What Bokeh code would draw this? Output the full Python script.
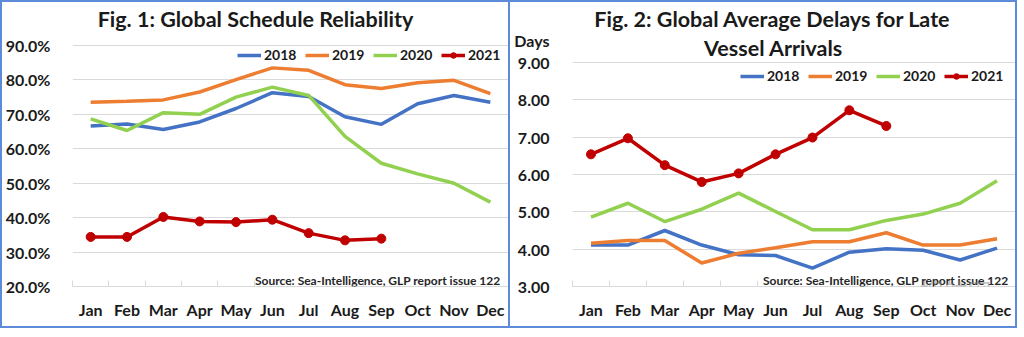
from bokeh.plotting import figure
from bokeh.layouts import row
from bokeh.models import (Label, Legend, LegendItem, FixedTicker, Range1d,
                          NumeralTickFormatter)
from bokeh.embed import file_html
from bokeh.resources import INLINE

# ---------------- data ----------------
months = ["Jan", "Feb", "Mar", "Apr", "May", "Jun", "Jul", "Aug", "Sep", "Oct", "Nov", "Dec"]
years = ["2018", "2019", "2020", "2021"]

# Fig. 1: Global Schedule Reliability (fraction)
rel_2018 = [0.666, 0.672, 0.656, 0.678, 0.717, 0.763, 0.752, 0.693, 0.671, 0.731, 0.755, 0.735]
rel_2019 = [0.735, 0.738, 0.742, 0.765, 0.801, 0.835, 0.828, 0.786, 0.775, 0.792, 0.799, 0.760]
rel_2020 = [0.687, 0.653, 0.705, 0.700, 0.750, 0.779, 0.755, 0.636, 0.558, 0.527, 0.500, 0.445]
rel_2021 = [0.344, 0.344, 0.402, 0.389, 0.387, 0.394, 0.355, 0.334, 0.339]

# Fig. 2: Global Average Delays for Late Vessel Arrivals (days)
del_2018 = [4.11, 4.11, 4.50, 4.11, 3.85, 3.83, 3.49, 3.92, 4.01, 3.97, 3.71, 4.03]
del_2019 = [4.16, 4.23, 4.23, 3.63, 3.89, 4.04, 4.20, 4.20, 4.44, 4.11, 4.11, 4.28]
del_2020 = [4.86, 5.23, 4.74, 5.07, 5.50, 5.01, 4.52, 4.52, 4.77, 4.94, 5.23, 5.83]
del_2021 = [6.54, 6.97, 6.25, 5.80, 6.03, 6.54, 6.99, 7.72, 7.30]

pct_ticks = [0.2, 0.3, 0.4, 0.5, 0.6, 0.7, 0.8, 0.9]
day_ticks = [3, 4, 5, 6, 7, 8, 9]

title1 = "Fig. 1: Global Schedule Reliability"
title2a = "Fig. 2: Global Average Delays for Late"
title2b = "Vessel Arrivals"
days_label = "Days"
source_text = "Source: Sea-Intelligence, GLP report issue 122"
watermark = "搜航网"

colors = {"2018": "#4472C4", "2019": "#ED7D31", "2020": "#92D050", "2021": "#C00000"}
FONT = "Lato"
TXT = "#1a1a1a"
GRID = "#D9D9D9"
BORDER = "#5B8BD9"
x = list(range(len(months)))


def make_fig(width, y_range, ticks, fmt, mb_left, mb_right, border):
    p = figure(width=width, height=324, x_range=Range1d(-0.5, 11.5), y_range=Range1d(*y_range),
               output_backend="svg", toolbar_location=None, title=None,
               min_border_left=mb_left, min_border_right=mb_right, min_border_top=0,
               min_border_bottom=44)
    p.styles = border
    p.outline_line_color = None
    p.background_fill_color = "white"
    p.border_fill_color = "white"
    p.xgrid.visible = False
    p.ygrid.grid_line_color = GRID
    p.ygrid.grid_line_width = 1
    p.ygrid.ticker = FixedTicker(ticks=ticks)

    p.yaxis.ticker = FixedTicker(ticks=ticks)
    p.yaxis.formatter = NumeralTickFormatter(format=fmt)
    p.yaxis.axis_line_color = None
    p.yaxis.major_tick_line_color = None
    p.yaxis.minor_tick_line_color = None
    p.yaxis.major_label_text_font = FONT
    p.yaxis.major_label_text_font_style = "bold"
    p.yaxis.major_label_text_font_size = "16px"
    p.yaxis.major_label_text_color = TXT

    p.xaxis.ticker = FixedTicker(ticks=x, minor_ticks=[i - 0.5 for i in range(len(months) + 1)])
    p.xaxis.major_label_overrides = {i: m for i, m in enumerate(months)}
    p.xaxis.axis_line_color = GRID
    p.xaxis.major_tick_line_color = None
    p.xaxis.minor_tick_line_color = GRID
    p.xaxis.minor_tick_in = 6
    p.xaxis.minor_tick_out = 0
    p.xaxis.major_label_text_font = FONT
    p.xaxis.major_label_text_font_style = "bold"
    p.xaxis.major_label_text_font_size = "16px"
    p.xaxis.major_label_text_color = TXT
    p.xaxis.major_label_standoff = 7
    return p


def add_series(p, series, loc):
    items = []
    for yname, vals in zip(years, series):
        rs = [p.line(x[:len(vals)], vals, line_width=3.5, line_color=colors[yname])]
        if yname == "2021":
            rs.append(p.scatter(x[:len(vals)], vals, size=9, fill_color=colors[yname],
                                line_color=colors[yname]))
        items.append(LegendItem(label=yname, renderers=rs))
    legend = Legend(items=items, orientation="horizontal", location=loc,
                    label_text_font=FONT, label_text_font_style="bold",
                    label_text_font_size="14px", label_text_color=TXT,
                    glyph_width=24, glyph_height=14, label_standoff=3, spacing=4,
                    padding=2, margin=0, label_width=37,
                    border_line_alpha=0, background_fill_alpha=0)
    p.add_layout(legend)


def label(p, px, py, text, align, size, font=FONT, color=TXT, alpha=1.0, style="bold"):
    p.add_layout(Label(x=px, y=py, text=text, text_align=align, text_baseline="middle",
                       text_font=font, text_font_style=style, text_font_size=size,
                       text_color=color, text_alpha=alpha))


# ---------------- Fig. 1 ----------------
# frame spans page y 2..286 and x 72..508; 90% gridline at y=45, 20% at y=286
def fx1(px):
    return -0.5 + (px - 72) * 12 / 436

def fy1(py):
    return 0.9 - (py - 45) * 0.7 / 241

p1 = make_fig(506, (0.2, fy1(2)), pct_ticks, "0.0%", 70, 4,
              {"border": f"2px solid {BORDER}", "box-sizing": "content-box"})
p1.yaxis.major_label_standoff = 16
add_series(p1, [rel_2018, rel_2019, rel_2020, rel_2021], (235 - 72, 286 - 65))

label(p1, fx1(255), fy1(18), title1, "center", "21.5px")
label(p1, fx1(500), fy1(280), source_text, "right", "12px", color="#262626")

# ---------------- Fig. 2 ----------------
# frame spans page y 2..286 and x 572..1015; 9.00 at y=62, 3.00 at y=286
def fx2(px):
    return -0.5 + (px - 572) * 12 / 443

def fy2(py):
    return 9 - (py - 62) * 6 / 224

days_pos = round(fy2(40), 2)
p2 = make_fig(505, (3, fy2(2)), day_ticks, "0.00", 62, 2,
              {"border": f"2px solid {BORDER}", "border-left": "none", "box-sizing": "content-box"})
p2.yaxis.ticker = FixedTicker(ticks=day_ticks + [days_pos])
p2.yaxis.major_label_overrides = {days_pos: days_label}
p2.yaxis.major_label_standoff = 17
add_series(p2, [del_2018, del_2019, del_2020, del_2021], (738 - 572, 286 - 86))

label(p2, fx2(772), fy2(18), title2a, "center", "21.5px")
label(p2, fx2(773), fy2(47), title2b, "center", "21.5px")
label(p2, fx2(1008), fy2(280), source_text, "right", "12px", color="#262626")
label(p2, fx2(955), fy2(290), watermark, "center", "24px", font="Noto Sans CJK SC",
      color="#8a8a8a", alpha=0.5, style="normal")

layout = row(p1, p2, spacing=0)
open("out.html", "w").write(file_html(layout, INLINE))
